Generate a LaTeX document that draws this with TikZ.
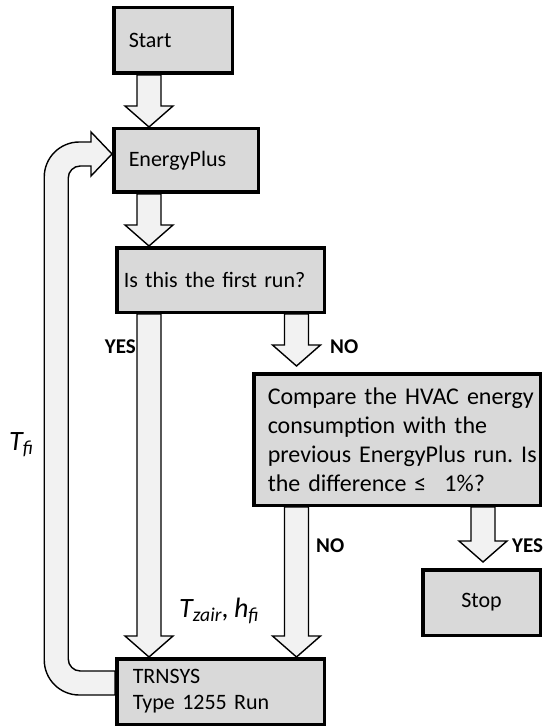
\documentclass[tikz,border=0pt]{standalone}
\usepackage{fontspec}
\setmainfont{Carlito}[WordSpace=0.8]
\usetikzlibrary{calc,backgrounds}

\definecolor{boxgray}{HTML}{D9D9D9}
\definecolor{arrowgray}{HTML}{F2F2F2}

\tikzset{
  box/.style={draw, rectangle, line width=3.5pt, fill=boxgray, inner xsep=15pt, inner ysep=0pt,
    align=left, font=\fontsize{22}{26}\selectfont\frenchspacing},
  flow/.style={draw, line width=1.4pt, fill=arrowgray, line join=miter},
  answer/.style={inner sep=0pt, font=\fontsize{21}{24}\selectfont\bfseries},
  var/.style={inner sep=0pt, font=\fontsize{28}{30}\selectfont\itshape},
}

% grosse flèche verticale : [écart] départ, arrivée
\newcommand{\flowarrow}[3][0pt]{%
  \draw[flow] let \p1=(#2), \p2=(#3) in
    (\x1-12pt,\y1) -- (\x1-12pt,\y2+#1+21pt) -- (\x1-24pt,\y2+#1+21pt) -- (\x1,\y2+#1)
    -- (\x1+24pt,\y2+#1+21pt) -- (\x1+12pt,\y2+#1+21pt) -- (\x1+12pt,\y1) -- cycle;
}

\begin{document}
\begin{tikzpicture}[x=1pt, y=-1pt]
  \useasboundingbox (0,0) rectangle (546,727);

  % Boîtes
  \node[box, text width=88.5pt, minimum height=65.5pt] (start) at (173,40.5) {Start};
  \node[box, text width=114.5pt, minimum height=63.5pt] (energy) at (186,160.5) {EnergyPlus};
  \node[box, inner xsep=7pt, text width=193.5pt, minimum height=64.5pt] (first) at (220.5,280) {Is this the first run?};
  \node[box, inner xsep=14pt, text width=258.5pt, minimum height=131.5pt,
    font=\fontsize{24}{29}\selectfont\frenchspacing] (compare) at (397,439.5)
    {\mbox{Compare the HVAC energy}\\consumption with the\\\mbox{previous EnergyPlus run. Is}\\the difference ≤\hspace{18pt}1\%?};
  \node[box, align=center, inner xsep=0pt, minimum width=117.5pt, minimum height=65.5pt] (stop) at (481.5,602.5) {Stop};
  \node[box, inner xsep=16pt, text width=175.5pt, minimum height=65.5pt] (trnsys) at (220.5,691.5) {TRNSYS\\Type 1255 Run};

  \coordinate (colmain) at (149,0);
  \coordinate (colno) at (296.5,0);
  \coordinate (colstop) at (483,0);

  % Flèches entre les boîtes
  \begin{scope}[on background layer]
    \flowarrow{start.south -| colmain}{energy.north -| colmain}
    \flowarrow{energy.south -| colmain}{first.north -| colmain}
    \flowarrow{first.south -| colmain}{trnsys.north -| colmain}
    \flowarrow[6pt]{first.south -| colno}{compare.north -| colno}
    \flowarrow{compare.south -| colno}{trnsys.north -| colno}
    \flowarrow[6pt]{compare.south -| colstop}{stop.north -| colstop}
    % retour TRNSYS -> EnergyPlus
    \draw[flow] let \p1=([yshift=8.5pt]trnsys.west), \p2=([yshift=6.5pt]energy.west) in
      (\x1,\y1-12pt)
      [rounded corners=35pt] -- (\x1-70.75pt,\y1-12pt) -- (\x1-70.75pt,\y2+12pt)
      [sharp corners] -- (\x2-21pt,\y2+12pt) -- (\x2-21pt,\y2+22pt) -- (\x2,\y2)
      -- (\x2-21pt,\y2-22pt) -- (\x2-21pt,\y2-12pt)
      [rounded corners=12pt] -- (\x1-46.75pt,\y2-12pt) -- (\x1-46.75pt,\y1+12pt)
      [sharp corners] -- (\x1,\y1+12pt) -- cycle;
  \end{scope}

  % Étiquettes
  \node[answer, anchor=east] (yesleft) at (136,347) {YES};
  \node[answer, anchor=west] (noright) at (330,347) {NO};
  \node[answer, anchor=west] (nodown) at (316,546) {NO};
  \node[answer, anchor=west] (yesstop) at (512,546) {YES};
  \node[var, anchor=base west] (tfi) at (9,450) {T\textsubscript{fi}};
  \node[var, anchor=base west] (tzair) at (179,617) {T\textsubscript{zair}, h\textsubscript{fi}};
\end{tikzpicture}
\end{document}
